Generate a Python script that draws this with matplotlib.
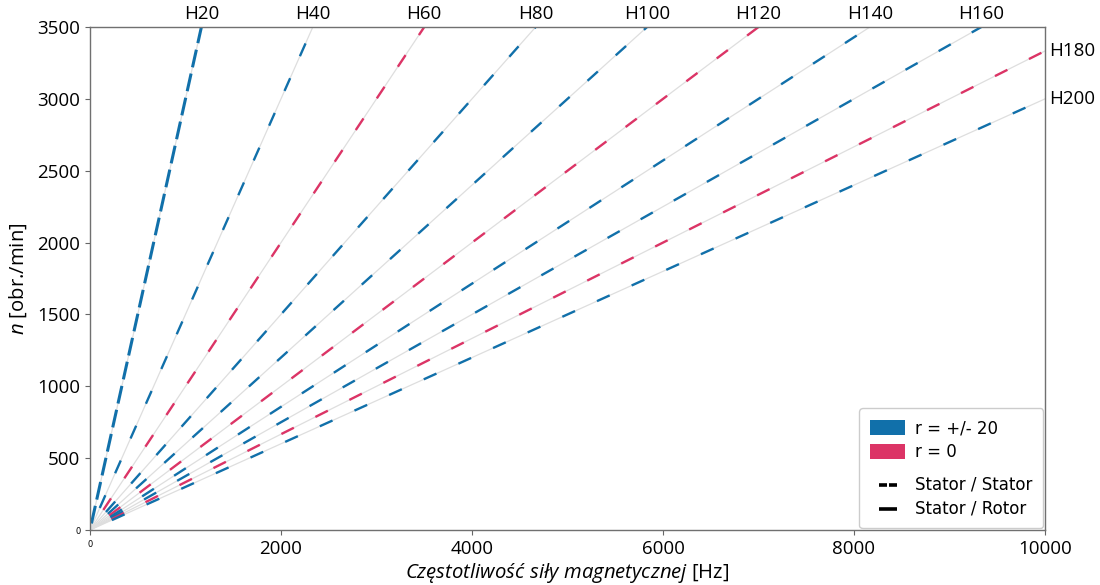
import numpy as np
import matplotlib
matplotlib.use("Agg")
import matplotlib.pyplot as plt
from matplotlib.patches import Patch, Rectangle
from matplotlib.lines import Line2D
from matplotlib.path import Path
from matplotlib.legend_handler import HandlerPatch
from matplotlib.offsetbox import DrawingArea

plt.rcParams['font.family'] = ['Open Sans', 'DejaVu Sans']
plt.rcParams['mathtext.fontset'] = 'custom'
plt.rcParams['mathtext.rm'] = 'Open Sans'
plt.rcParams['mathtext.it'] = 'Open Sans:italic'

# Harmonic orders and their rotor-order category
harmonics = [20, 40, 60, 80, 100, 120, 140, 160, 180, 200]
groups = ['r20', 'r20', 'r0', 'r20', 'r20', 'r0', 'r20', 'r20', 'r0', 'r20']
n_max = 3500
f_max = 10000

x_ticks = [0, 2000, 4000, 6000, 8000, 10000]
y_ticks = [0, 500, 1000, 1500, 2000, 2500, 3000, 3500]

colors = {'r20': '#1170aa', 'r0': '#dc3466'}

fig = plt.figure(figsize=(11, 5.85), dpi=100)
ax = fig.add_axes([0.0818, 0.094, 0.8682, 0.8598])

DASH, GAP = 5.9, 10.2
n = np.linspace(0, n_max, 400)
for h, g in zip(harmonics, groups):
    f = h * n / 60.0
    ax.plot(f, n, color='#dedede', lw=0.9, zorder=1)
    if h == 20:
        ax.plot(f, n, color=colors[g], lw=2.2, linestyle=(DASH, (DASH, GAP)), zorder=2)
        ax.plot(f, n, color=colors[g], lw=2.2, linestyle=(DASH + 8.0, (DASH, GAP)), zorder=2)
    else:
        ax.plot(f, n, color=colors[g], lw=1.7, linestyle=(DASH, (DASH, GAP)), zorder=2)
    # harmonic label at top or right edge
    f_end = h * n_max / 60.0
    if f_end <= f_max:
        ax.text(f_end, n_max + 25, f"H{h}", ha='center', va='bottom', fontsize=13.5)
    else:
        n_end = f_max * 60.0 / h
        ax.text(f_max + 40, n_end, f"H{h}", ha='left', va='center', fontsize=13.5)

ax.set_xlim(0, f_max)
ax.set_ylim(0, n_max)
ax.set_xticks(x_ticks)
ax.set_yticks(y_ticks)
ax.set_xticklabels([str(v) for v in x_ticks])
ax.set_yticklabels([str(v) for v in y_ticks])
for lbl in ax.get_xticklabels() + ax.get_yticklabels():
    lbl.set_fontsize(13.5)
ax.get_xticklabels()[0].set_fontsize(6)
ax.get_xticklabels()[0].set_family('DejaVu Sans')
ax.get_yticklabels()[0].set_fontsize(6)
ax.get_yticklabels()[0].set_family('DejaVu Sans')

ax.tick_params(colors='#666666', labelcolor='black', length=3.5, width=0.8)
for s in ax.spines.values():
    s.set_color('#707070')
    s.set_linewidth(1.0)

ax.set_xlabel(r"$\it{Częstotliwość\ siły\ magnetycznej}$ [Hz]", fontsize=14.6, labelpad=2)
ax.set_ylabel(r"$n$ [obr./min]", fontsize=14.6, labelpad=6)


def tall_rect(legend, orig_handle, xdescent, ydescent, width, height, fontsize):
    extra = 3.2
    return Rectangle((-xdescent, -ydescent - extra), width, height + 2 * extra)


dash_marker = Path([(-1, 0), (-0.12, 0), (0.12, 0), (1, 0)],
                   [Path.MOVETO, Path.LINETO, Path.MOVETO, Path.LINETO])

p_r20 = Patch(facecolor=colors['r20'], edgecolor='none', label='r = +/- 20')
p_r0 = Patch(facecolor=colors['r0'], edgecolor='none', label='r = 0')
spacer = Line2D([], [], color='none', label=' ')
l_ss = Line2D([], [], color='black', ls='none', marker=dash_marker, markersize=13,
              markeredgewidth=2.6, label='Stator / Stator')
l_sr = Line2D([], [], color='black', ls='none', marker='_', markersize=13,
              markeredgewidth=2.6, label='Stator / Rotor')

leg = ax.legend(handles=[p_r20, p_r0, spacer, l_ss, l_sr], loc='lower right',
                prop={'family': 'DejaVu Sans', 'size': 12},
                handlelength=2.1, handleheight=0.2, handletextpad=0.6,
                framealpha=1, borderpad=0.65, labelspacing=0.37,
                borderaxespad=0.1, bbox_to_anchor=(1.0, 0.0),
                handler_map={Patch: HandlerPatch(patch_func=tall_rect)})
leg.get_frame().set_edgecolor('#cccccc')

# replace the blank entry row with a thin gap between the two legend groups
column = leg._legend_handle_box.get_children()[0]
rows = column.get_children()
rows[2] = DrawingArea(1, 1.2)
column._children = rows

fig.savefig('out.png', dpi=100)
